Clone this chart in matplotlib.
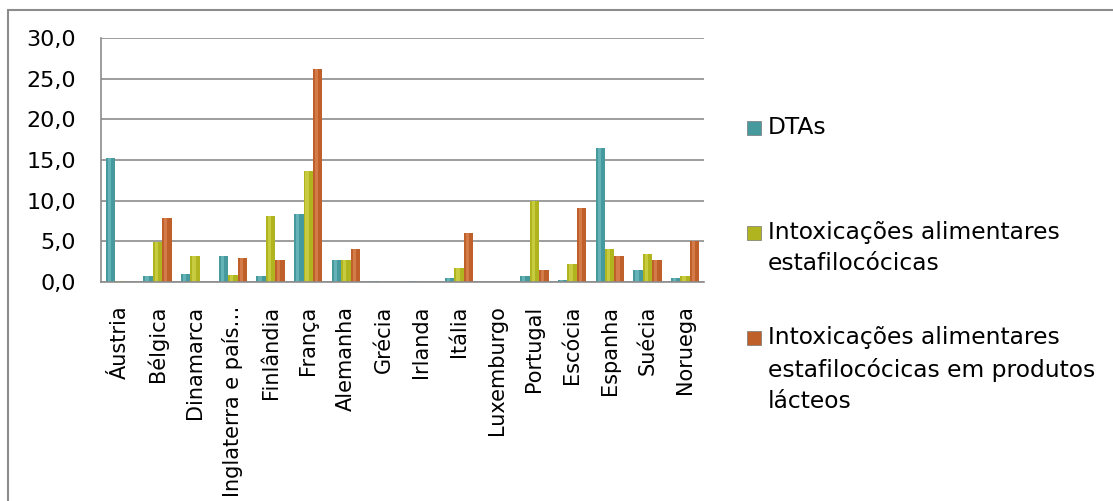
import matplotlib.pyplot as plt
import matplotlib.patches as mpatches
import numpy as np

# data
paises = ['Áustria', 'Bélgica', 'Dinamarca', 'Inglaterra e país…', 'Finlândia',
          'França', 'Alemanha', 'Grécia', 'Irlanda', 'Itália', 'Luxemburgo',
          'Portugal', 'Escócia', 'Espanha', 'Suécia', 'Noruega']
dtas = [15.3, 0.7, 0.95, 3.25, 0.7, 8.4, 2.75, 0.15, 0.1, 0.5, 0.0, 0.7, 0.2, 16.5, 1.5, 0.45]
intox = [0.1, 4.9, 3.2, 0.9, 8.1, 13.6, 2.75, 0.0, 0.0, 1.7, 0.0, 9.9, 2.2, 4.0, 3.5, 0.8]
intox_lact = [0.0, 7.9, 0.0, 3.0, 2.75, 26.2, 4.0, 0.0, 0.0, 6.0, 0.0, 1.5, 9.1, 3.2, 2.75, 5.0]
nomes = ['DTAs',
         'Intoxicações alimentares\nestafilocócicas',
         'Intoxicações alimentares\nestafilocócicas em produtos\nlácteos']
yticks = [0, 5, 10, 15, 20, 25, 30]

cores = ['#469a9e', '#b0b41f', '#bf5f2a']
claras = ['#8fd3d6', '#e4e86a', '#eea171']

plt.rcParams['font.family'] = 'DejaVu Sans'

fig = plt.figure(figsize=(11.13, 5.01), dpi=100)
ax = fig.add_axes([0.0907, 0.4371, 0.5418, 0.4871])

x = np.arange(len(paises))
w = 0.25
series = [dtas, intox, intox_lact]
for i, vals in enumerate(series):
    pos = x + (i - 1) * w
    ax.bar(pos, vals, width=w, color=cores[i], edgecolor='none', zorder=3)
    # highlight stripe for the cylinder look
    ax.bar(pos - w * 0.12, vals, width=w * 0.35, color=claras[i], alpha=0.45,
           edgecolor='none', zorder=4)

ax.set_xlim(-0.5, len(paises) - 0.5)
ax.set_ylim(0, 30)
ax.set_yticks(yticks)
ax.set_yticklabels([f'{v:.1f}'.replace('.', ',') for v in yticks], fontsize=16)
ax.set_xticks(x)
ax.set_xticklabels(paises, rotation=90, fontsize=15, va='top', ha='center')
ax.tick_params(axis='both', length=0)
ax.tick_params(axis='y', pad=18)
ax.tick_params(axis='x', pad=17)

ax.grid(axis='y', color='#8c8c8c', linewidth=1.2, zorder=1)
for s in ['top', 'right']:
    ax.spines[s].set_visible(False)
for s in ['left', 'bottom']:
    ax.spines[s].set_color('#8c8c8c')
    ax.spines[s].set_linewidth(1.2)
    ax.spines[s].set_zorder(5)

# legend drawn by hand to keep square aligned to first line
W, H = 1113, 501
leg_y = [128, 233, 338]
for nome, cor, yy in zip(nomes, cores, leg_y):
    fig.patches.append(mpatches.Rectangle((747 / W, 1 - (yy + 7) / H), 14 / W, 14 / H,
                                          transform=fig.transFigure, facecolor=cor,
                                          edgecolor='#777777', linewidth=0.5))
    fig.text(768 / W, 1 - (yy - 12) / H, nome, fontsize=16.8, va='top', ha='left',
             linespacing=1.45)

# outer chart border
fig.patches.append(mpatches.Rectangle((8 / W, -0.1), 1.2, 1 - 10 / H + 0.1,
                                      transform=fig.transFigure, fill=False,
                                      edgecolor='#8c8c8c', linewidth=1.5))

plt.savefig('out.png', dpi=100)
